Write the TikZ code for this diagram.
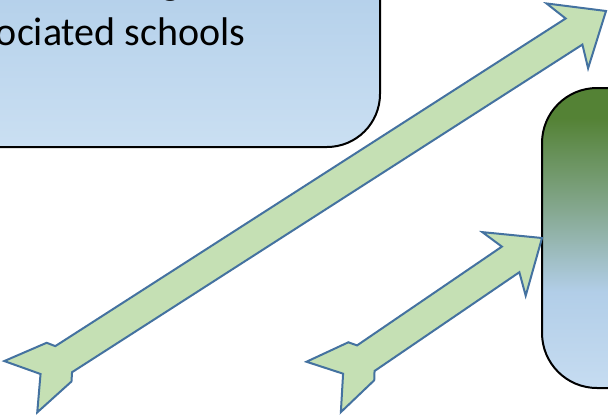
\documentclass[tikz,border=0pt]{standalone}
\usepackage{fontspec}
\setmainfont{Carlito}
\usetikzlibrary{positioning,calc}
\definecolor{boxtop}{RGB}{168,200,230}
\definecolor{boxbot}{RGB}{202,223,242}
\definecolor{gbgreen}{RGB}{84,130,53}
\definecolor{gbgrey}{RGB}{132,167,142}
\definecolor{gbblue}{RGB}{178,206,232}
\definecolor{gbblueb}{RGB}{198,220,241}
\definecolor{arrowline}{RGB}{68,114,160}
\definecolor{arrowfill}{RGB}{197,224,180}
\pgfdeclareverticalshading{greenblue}{100bp}{color(0bp)=(gbblueb); color(25bp)=(gbblueb); color(41bp)=(gbblue); color(55bp)=(gbgrey); color(70bp)=(gbgreen); color(100bp)=(gbgreen)}
\tikzset{
    every node/.style={font=\fontsize{20}{24}\selectfont, inner sep=0pt, outer sep=0pt},
    blueround/.style={draw=black, line width=1pt, rounded corners=26.5pt, top color=boxtop, bottom color=boxbot},
    greenround/.style={draw=black, line width=1pt, rounded corners=27.5pt, shading=greenblue},
    fatarrow/.style={draw=arrowline, fill=arrowfill, line width=1pt, line join=miter},
    pics/tailarrow/.style={code={
        \draw[fatarrow] (0,0) -- (-46,38.5) -- (-38,15.5) -- (-#1+51,15.5) -- (-#1+45.5,23)
            -- (-#1,30.5) -- (-#1+23.5,0) -- (-#1,-30.5) -- (-#1+45.5,-23) -- (-#1+51,-15.5)
            -- (-38,-15.5) -- (-46,-38.5) -- cycle;
    }},
}
\begin{document}
\begin{tikzpicture}[x=0.5pt, y=-0.5pt]
\useasboundingbox (0,0) rectangle (608,417);
% the two boxes, both cut by the page edge
\node[blueround, minimum width=220pt, minimum height=123.5pt] (partners) at (160,23.5) {};
\node[greenround, minimum width=100pt, minimum height=150pt] (centre) at (642,238) {};
\node[anchor=base west] (partnersup) at (161,-5) {g};
\node[anchor=base west] (partnerstext) at (-4,46) {ociated schools};
% block arrows, tip first
\coordinate (longtip) at (606,11);
\pic[rotate=32.7] at (longtip) {tailarrow=695.5};
\pic[rotate=34.3] at (centre.west) {tailarrow=264.3};
\end{tikzpicture}
\end{document}
